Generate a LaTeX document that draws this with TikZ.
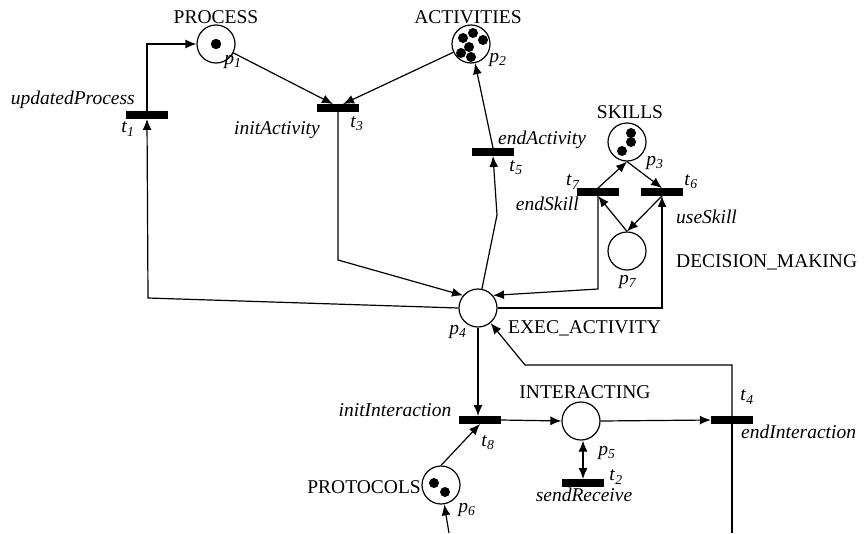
\documentclass[tikz,border=0pt]{standalone}
\usepackage{fontspec}
\setmainfont{Liberation Serif}
\usetikzlibrary{arrows.meta,calc}
% italic letter with italic subscript, e.g. p_1, t_3
\newcommand\plab[2]{\textit{#1}\textsubscript{\textit{#2}}}

\begin{document}
\begin{tikzpicture}[x=1pt,y=-1pt,
  font=\fontsize{19.5}{22}\selectfont,
  place/.style={circle,draw,line width=1.2pt,minimum size=38pt,inner sep=0pt},
  trans/.style={rectangle,fill=black,minimum width=42pt,minimum height=7.5pt,inner sep=0pt},
  conn/.style={line width=1.2pt},
  arc/.style={conn,-{Latex[length=11pt,width=9pt]}},
  biarc/.style={conn,{Latex[length=11pt,width=9pt]}-{Latex[length=11pt,width=9pt]}},
  lbl/.style={inner sep=0pt},
  tname/.style={lbl,font=\fontsize{19.5}{22}\selectfont\itshape},
]
\useasboundingbox (0,0) rectangle (866,533);

% places
\node[place] (p1) at (216,44) {};
\node[place] (p2) at (471,44) {};
\node[place] (p3) at (627,142) {};
\node[place] (p7) at (627,251) {};
\node[place] (p4) at (478,308) {};
\node[place] (p5) at (581,421) {};
\node[place] (p6) at (441,485) {};

% tokens
\fill (p1.center) circle (5.2pt);
\foreach \dx/\dy in {2/-11,12/-4,-8/-6,-2/3,-10/9,0/13}
  \fill ([shift={(\dx,\dy)}]p2.center) circle (5pt);
\foreach \dx/\dy in {4/-9,4/0,-5/9}
  \fill ([shift={(\dx,\dy)}]p3.center) circle (5pt);
\foreach \dx/\dy in {-7/-2,4/7}
  \fill ([shift={(\dx,\dy)}]p6.center) circle (5pt);

% transitions
\node[trans] (t1) at (147,115) {};
\node[trans] (t3) at (338,108) {};
\node[trans] (t5) at (493,152) {};
\node[trans] (t7) at (598,192) {};
\node[trans] (t6) at (662,192) {};
\node[trans] (t8) at (480,420) {};
\node[trans] (t4) at (732,420) {};
\node[trans] (t2) at (583,483) {};

% bend points and loose ends
\coordinate (c1) at (148,298);
\coordinate (c2) at (338,260);
\coordinate (c3) at (497,215);
\coordinate (c4) at (599,289);
\coordinate (c5) at (525,365);
\coordinate (c6) at (732,533);
\coordinate (c7) at (449,533);

% arcs
\draw[arc] (t1.north) |- (p1.west);
\draw[arc] (p4.west) -- (c1) -- (t1.south);
\draw[arc] (p1) -- ($(t3.north)+(-5,0)$);
\draw[arc] (p2) -- ($(t3.north)+(5,0)$);
\draw[arc] (t3.south) -- (c2) -- (p4.140);
\draw[arc] (p4) -- (c3) -- (t5.south);
\draw[arc] (t5.north) -- (p2);
\draw[arc] (t7.north) -- (p3.south);
\draw[arc] (p3.south) -- (t6.north);
\draw[arc] (p7.north) -- (t7.south);
\draw[arc] (t6.south) -- (p7.north);
\draw[arc] (t7.south) -- (t7.south |- c4) -- (p4.40);
\draw[arc,line width=1.6pt] (p4.east) -| (t6.south);
\draw[arc] (t4.north) |- (c5) -- (p4.-50);
\draw[conn] (t4.south) -- (c6);
\draw[arc] (p4.south) -- (p4.south |- t8.north);
\draw[arc] (t8.east) -- (p5.west);
\draw[arc] (p5.east) -- (t4.west);
\draw[biarc] (t2.north |- p5.south) -- (t2.north);
\draw[arc] (p6.north) -- (t8.south);
\draw[arc] (c7) -- (p6);

% place names
\node[lbl] (lp1) at (216,17) {PROCESS};
\node[lbl] (lp2) at (468,17) {ACTIVITIES};
\node[lbl] (lp3) at (630,112) {SKILLS};
\node[lbl,anchor=west] (lp7) at (676,262) {DECISION\_MAKING};
\node[lbl,anchor=west] (lp4) at (508,328) {EXEC\_ACTIVITY};
\node[lbl] (lp5) at (585,392) {INTERACTING};
\node[lbl,anchor=east] (lp6) at (421,487) {PROTOCOLS};

% place identifiers
\node[lbl] (ip1) at (233,62) {\plab{p}{1}};
\node[lbl] (ip2) at (498,60) {\plab{p}{2}};
\node[lbl] (ip3) at (655,163) {\plab{p}{3}};
\node[lbl] (ip7) at (628,282) {\plab{p}{7}};
\node[lbl] (ip4) at (458,332) {\plab{p}{4}};
\node[lbl] (ip5) at (607,453) {\plab{p}{5}};
\node[lbl] (ip6) at (467,510) {\plab{p}{6}};

% transition identifiers
\node[lbl] (it1) at (128,129) {\plab{t}{1}};
\node[lbl] (it3) at (357,124) {\plab{t}{3}};
\node[lbl] (it5) at (516,168) {\plab{t}{5}};
\node[lbl] (it7) at (573,182) {\plab{t}{7}};
\node[lbl] (it6) at (691,182) {\plab{t}{6}};
\node[lbl] (it8) at (488,443) {\plab{t}{8}};
\node[lbl] (it2) at (616,477) {\plab{t}{2}};
\node[lbl] (it4) at (747,397) {\plab{t}{4}};

% transition names
\node[tname,anchor=east] (nt1) at (135,100) {updatedProcess};
\node[tname] (nt3) at (277,130) {initActivity};
\node[tname,anchor=west] (nt5) at (498,140) {endActivity};
\node[tname,anchor=east] (nt7) at (579,204) {endSkill};
\node[tname,anchor=west] (nt6) at (676,217) {useSkill};
\node[tname] (nt8) at (395,410) {initInteraction};
\node[tname] (nt2) at (584,495) {sendReceive};
\node[tname,anchor=west] (nt4) at (741,432) {endInteraction};
\end{tikzpicture}
\end{document}
